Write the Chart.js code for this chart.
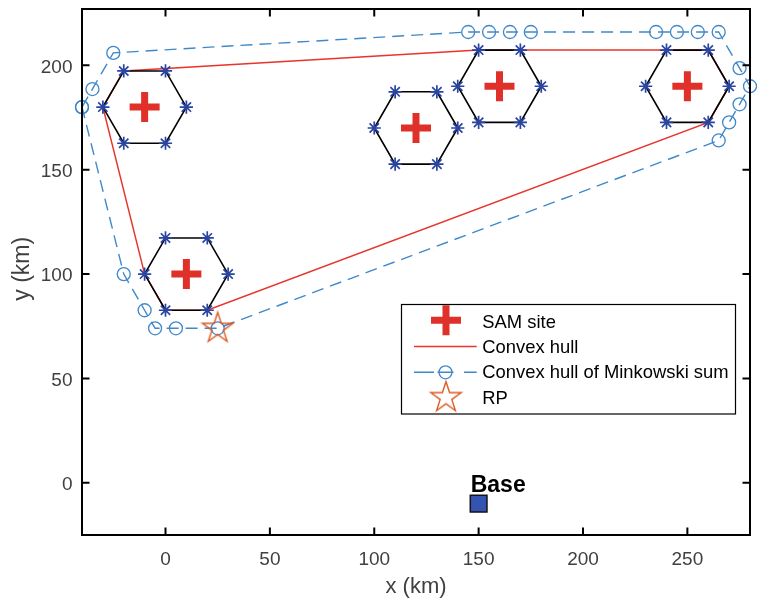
<!DOCTYPE html>
<html><head><meta charset="utf-8">
<script src="https://cdn.jsdelivr.net/npm/chart.js@4.4.0/dist/chart.umd.min.js"></script>
<style>html,body{margin:0;padding:0;background:#fff;}#wrap{width:758px;height:603px;position:relative;}</style>
</head><body><div id="wrap"><canvas id="c" width="758" height="603"></canvas></div>
<script>
// ---- data (km) ----
const siteX = [-10, 10, 120, 160, 250];
const siteY = [180, 100, 170, 190, 190];
const hexDX = [20, 10, -10, -20, -10, 10];
const hexDY = [0, 17.32, 17.32, 0, -17.32, -17.32];
const hullX = [-30, -20, 150, 260, 270, 260, 20, 0, -10, -30];
const hullY = [180, 197.32, 207.32, 207.32, 190, 172.68, 82.68, 82.68, 100, 180];
const minkX = [-40, -35, -25, 145, 155, 165, 175, 235, 245, 255, 265, 275, 280, 275, 270, 265, 25, 5, -5, -10, -20, -40];
const minkY = [180, 188.66, 205.98, 215.98, 215.98, 215.98, 215.98, 215.98, 215.98, 215.98, 215.98, 198.66, 190, 181.34, 172.68, 164.02, 74.02, 74.02, 74.02, 82.68, 100, 180];
const rpX = [25];
const rpY = [74.02];
const baseX = [150];
const baseY = [-10];
const baseLabel = 'Base';
const baseLabelX = 146.2;
const baseLabelY = -4.3;
const xTicks = [0, 50, 100, 150, 200, 250];
const yTicks = [0, 50, 100, 150, 200];
const legendLabels = ['SAM site', 'Convex hull', 'Convex hull of Minkowski sum', 'RP'];

const FONT = '"Liberation Sans", Arial, Helvetica, sans-serif';
const C_CROSS = '#e0302a', C_HULL = '#e8352c', C_MINK = '#3f88c9', C_AST = '#2a45a0', C_RP = '#dd5a22', C_BASE = '#3553b3';

function pts(xs, ys) { return xs.map((x, i) => ({x: x, y: ys[i]})); }

function makeStar(R, color, lw) {
  const s = 2 * Math.ceil(R + lw + 1);
  const c = document.createElement('canvas');
  c.width = s; c.height = s;
  const g = c.getContext('2d');
  const cx = s / 2, cy = s / 2;
  g.beginPath();
  for (let i = 0; i < 10; i++) {
    const r = i % 2 ? R * 0.382 : R;
    const a = -Math.PI / 2 + i * Math.PI / 5;
    const px = cx + r * Math.cos(a), py = cy + r * Math.sin(a);
    if (i === 0) g.moveTo(px, py); else g.lineTo(px, py);
  }
  g.closePath();
  g.strokeStyle = color; g.lineWidth = lw; g.lineJoin = 'miter';
  g.stroke();
  return c;
}
const starImg = makeStar(16, C_RP, 1.4);

const hexVerts = [];
const hexSets = siteX.map((sx, k) => {
  const hx = hexDX.map(d => sx + d), hy = hexDY.map(d => siteY[k] + d);
  hx.forEach((x, i) => hexVerts.push({x: x, y: hy[i]}));
  return {
    data: pts(hx.concat([hx[0]]), hy.concat([hy[0]])),
    showLine: true, borderColor: '#000', borderWidth: 1.6, pointRadius: 0, clip: false
  };
});

const datasets = [
  {label: 'Base', data: pts(baseX, baseY), pointStyle: 'rect', pointRadius: 11.8,
   backgroundColor: C_BASE, borderColor: '#151515', borderWidth: 1.5, showLine: false, clip: false},
  {label: legendLabels[3], data: pts(rpX, rpY), pointStyle: starImg, pointRadius: 16, showLine: false, clip: false},
  {label: 'vertices', data: hexVerts, pointStyle: 'star', pointRadius: 6.6, borderColor: C_AST,
   backgroundColor: C_AST, borderWidth: 1.7, showLine: false, clip: false},
  {label: legendLabels[0], data: pts(siteX, siteY), pointStyle: 'cross', pointRadius: 15,
   borderColor: C_CROSS, borderWidth: 7, showLine: false, clip: false},
  ...hexSets,
  {label: legendLabels[2], data: pts(minkX, minkY), showLine: true, borderColor: C_MINK, borderWidth: 1.4,
   borderDash: [12, 7], pointStyle: 'circle', pointRadius: 6.5, pointBorderColor: C_MINK,
   pointBackgroundColor: 'rgba(0,0,0,0)', pointBorderWidth: 1.3, clip: false},
  {label: legendLabels[1], data: pts(hullX, hullY), showLine: true, borderColor: C_HULL, borderWidth: 1.5,
   pointRadius: 0, clip: false}
];

const framePlugin = {
  id: 'frame',
  afterDatasetsDraw(chart) {
    const ctx = chart.ctx, a = chart.chartArea;
    const xs = chart.scales.x, ys = chart.scales.y;
    ctx.save();
    // Base label
    ctx.font = 'bold 23px ' + FONT;
    ctx.fillStyle = '#000';
    ctx.textAlign = 'left'; ctx.textBaseline = 'alphabetic';
    ctx.fillText(baseLabel, xs.getPixelForValue(baseLabelX), ys.getPixelForValue(baseLabelY));
    // box
    ctx.strokeStyle = '#000'; ctx.lineWidth = 2;
    ctx.strokeRect(a.left, a.top, a.right - a.left, a.bottom - a.top);
    const tl = 7.5;
    ctx.beginPath();
    xTicks.forEach(v => {
      const p = xs.getPixelForValue(v);
      ctx.moveTo(p, a.bottom); ctx.lineTo(p, a.bottom - tl);
      ctx.moveTo(p, a.top); ctx.lineTo(p, a.top + tl);
    });
    yTicks.forEach(v => {
      const p = ys.getPixelForValue(v);
      ctx.moveTo(a.left, p); ctx.lineTo(a.left + tl, p);
      ctx.moveTo(a.right, p); ctx.lineTo(a.right - tl, p);
    });
    ctx.stroke();
    // legend
    const L = 401.5, T = 304.5, W = 334, H = 109.5;
    ctx.fillStyle = '#fff';
    ctx.fillRect(L, T, W, H);
    ctx.lineWidth = 1.2; ctx.strokeStyle = '#000';
    ctx.strokeRect(L, T, W, H);
    const symX = 446, txtX = 482.3, row0 = 322.7, step = 25.3;
    ctx.font = '18.4px ' + FONT;
    ctx.fillStyle = '#000'; ctx.textBaseline = 'middle'; ctx.textAlign = 'left';
    legendLabels.forEach((lab, i) => ctx.fillText(lab, txtX, row0 + i * step));
    // cross
    let yy = row0 - 2.5;
    ctx.strokeStyle = C_CROSS; ctx.lineWidth = 7; ctx.lineCap = 'butt';
    ctx.beginPath(); ctx.moveTo(symX - 15, yy); ctx.lineTo(symX + 15, yy);
    ctx.moveTo(symX, yy - 15); ctx.lineTo(symX, yy + 15); ctx.stroke();
    // hull line
    yy = row0 + step - 1.5;
    ctx.strokeStyle = C_HULL; ctx.lineWidth = 1.5;
    ctx.beginPath(); ctx.moveTo(414, yy); ctx.lineTo(476.7, yy); ctx.stroke();
    // minkowski
    yy = row0 + 2 * step - 1;
    ctx.strokeStyle = C_MINK; ctx.lineWidth = 1.4;
    ctx.beginPath();
    ctx.moveTo(414, yy); ctx.lineTo(434, yy);
    ctx.moveTo(437.5, yy); ctx.lineTo(453.5, yy);
    ctx.moveTo(464, yy); ctx.lineTo(476.7, yy);
    ctx.stroke();
    ctx.lineWidth = 1.3;
    ctx.beginPath(); ctx.arc(symX - 0.5, yy, 6.5, 0, Math.PI * 2); ctx.stroke();
    // star
    yy = row0 + 3 * step - 1;
    ctx.drawImage(starImg, symX - starImg.width / 2, yy - starImg.height / 2);
    ctx.restore();
  }
};

new Chart(document.getElementById('c'), {
  type: 'scatter',
  data: {datasets: datasets},
  options: {
    responsive: false, animation: false, devicePixelRatio: 1, events: [],
    layout: {autoPadding: false, padding: {top: 9, right: 8, left: 0, bottom: 0}},
    plugins: {legend: {display: false}, tooltip: {enabled: false}},
    elements: {line: {tension: 0}},
    scales: {
      x: {
        type: 'linear', min: -40, max: 280,
        afterBuildTicks: s => { s.ticks = xTicks.map(v => ({value: v})); },
        afterFit: s => { s.height = 68; s.paddingLeft = 0; s.paddingRight = 0; },
        grid: {display: false, drawTicks: false}, border: {display: false},
        ticks: {font: {family: FONT, size: 19}, color: '#404040', padding: 13, maxRotation: 0},
        title: {display: true, text: 'x (km)', font: {family: FONT, size: 22}, color: '#404040',
                padding: {top: 0, bottom: 3}}
      },
      y: {
        type: 'linear', min: -25, max: 227,
        afterBuildTicks: s => { s.ticks = yTicks.map(v => ({value: v})); },
        afterFit: s => { s.width = 82; s.paddingTop = 0; s.paddingBottom = 0; },
        grid: {display: false, drawTicks: false}, border: {display: false},
        ticks: {font: {family: FONT, size: 19}, color: '#404040', padding: 9.5, labelOffset: 2},
        title: {display: true, text: ' y (km)', font: {family: FONT, size: 23}, color: '#404040',
                padding: {top: 8.5, bottom: 0}}
      }
    }
  },
  plugins: [framePlugin]
});
</script></body></html>
